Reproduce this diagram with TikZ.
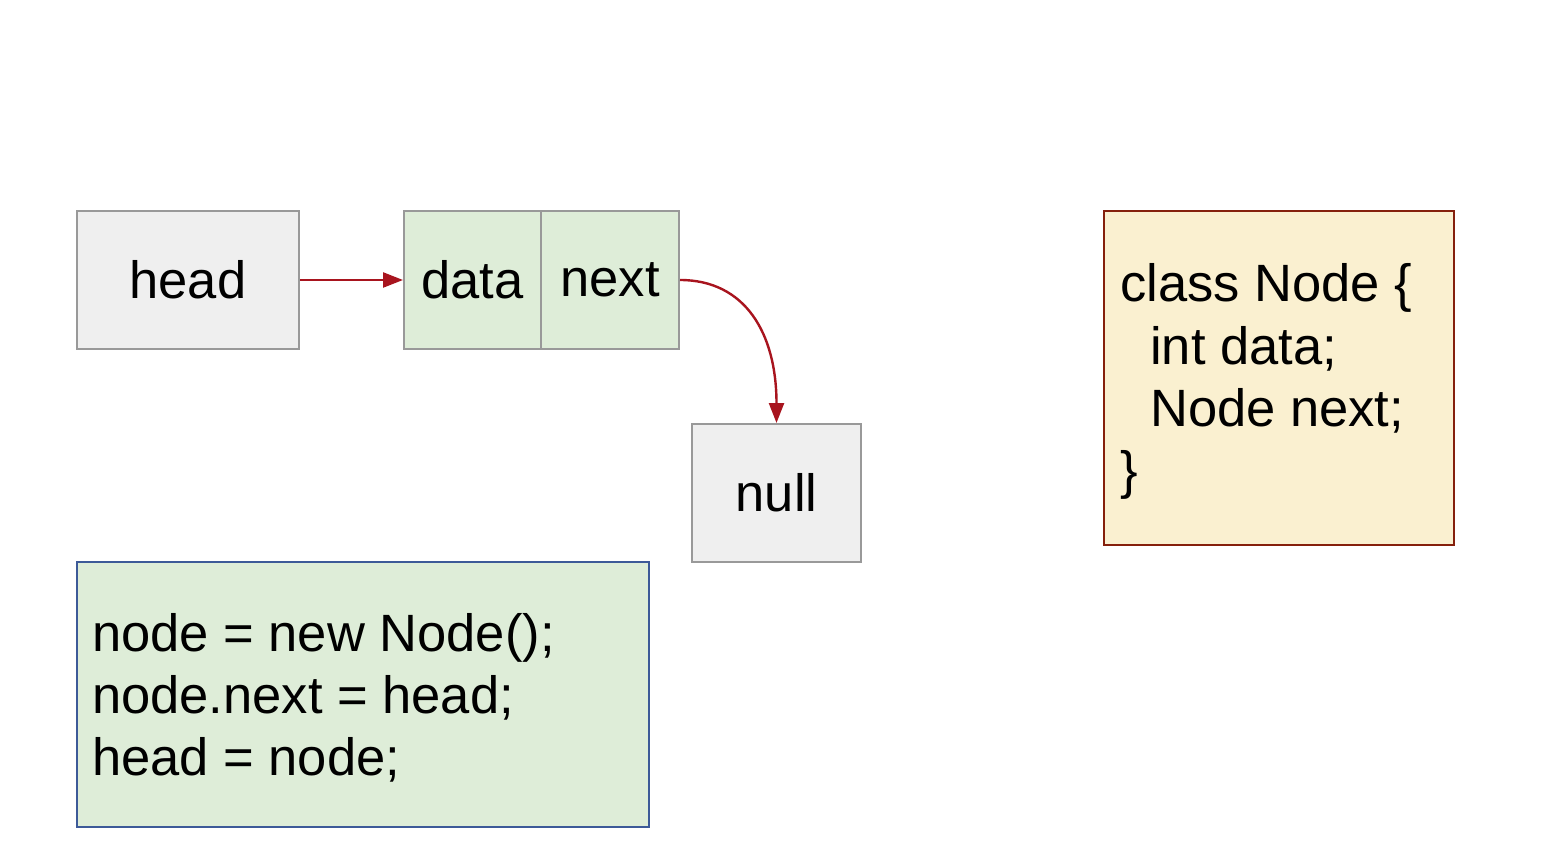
\documentclass[tikz,border=0pt]{standalone}
\usepackage{fontspec}
\setmainfont{Liberation Sans}
\usetikzlibrary{arrows.meta}
\definecolor{greyfill}{HTML}{EFEFEF}
\definecolor{greyline}{HTML}{999999}
\definecolor{greenfill}{HTML}{DEEDD8}
\definecolor{creamfill}{HTML}{FAF0D0}
\definecolor{berry}{HTML}{85200C}
\definecolor{bluebord}{HTML}{3D5A98}
\definecolor{arrowred}{HTML}{A8141E}
\begin{document}
\begin{tikzpicture}[x=1pt,y=-1pt,
  lbl/.style={font=\fontsize{52.5}{62}\selectfont, text=black},
  greybox/.style={draw=greyline, fill=greyfill, line width=2pt, minimum height=138pt, inner sep=0pt, lbl},
  cellbox/.style={draw=greyline, fill=greenfill, line width=2pt, minimum height=138pt, inner sep=0pt, lbl},
  codeline/.style={lbl, anchor=base west, inner sep=0pt},
  link/.style={draw=arrowred, line width=2.4pt, -{Triangle[length=20pt,width=15pt]}}
]
\useasboundingbox (0,0) rectangle (1555,866);
\fill[white] (0,0) rectangle (1555,866);

% linked list
\node[greybox, minimum width=222pt] (head) at (188,280) {head};
\node[cellbox, minimum width=137pt] (data) at (472.5,280) {data};
\node[cellbox, minimum width=138pt] (next) at (610,280) {next};
\node[greybox, minimum width=169pt] (null) at (776.5,493) {null};

\draw[link] (head.east) -- (data.west);
\draw[link] (next.east) .. controls +(65,0) and +(0,-90) .. (null.north);

% class box
\node[draw=berry, fill=creamfill, line width=2.5pt, minimum width=350pt, minimum height=334pt, inner sep=0pt] (cls) at (1279,378) {};
\node[codeline] (c1) at (1120,302) {class Node \{};
\node[codeline] (c2) at (1150,364) {int data;};
\node[codeline] (c3) at (1150,426) {Node next;};
\node[codeline] (c4) at (1120,488) {\}};

% code box
\node[draw=bluebord, fill=greenfill, line width=2.5pt, minimum width=572pt, minimum height=265pt, inner sep=0pt] (code) at (363,694.5) {};
\node[codeline] (k1) at (92,651) {node = new Node();};
\node[codeline] (k2) at (92,713) {node.next = head;};
\node[codeline] (k3) at (92,775) {head = node;};
\end{tikzpicture}
\end{document}
